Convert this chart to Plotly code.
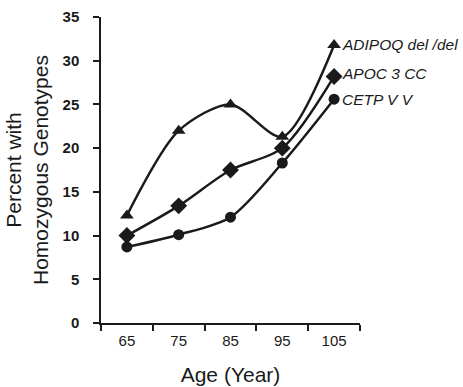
import plotly.graph_objects as go

ages = ["65", "75", "85", "95", "105"]
adipoq = [12.3, 22.0, 25.0, 21.3, 31.8]
apoc3 = [10.0, 13.4, 17.5, 20.0, 28.2]
cetp = [8.7, 10.1, 12.1, 18.3, 25.6]
series_names = ["ADIPOQ del /del", "APOC 3 CC", "CETP V V"]
y_ticks = [0, 5, 10, 15, 20, 25, 30, 35]

font = "Liberation Sans, Arial, sans-serif"
fig = go.Figure()
specs = [(adipoq, "triangle-up", 12, 0), (apoc3, "diamond", 13, 3), (cetp, "circle", 11, 0)]
for (vals, sym, size, ys), name in zip(specs, series_names):
    fig.add_trace(go.Scatter(
        x=ages, y=vals, mode="lines+markers", name=name,
        line=dict(color="#1a1a1a", width=2.5, shape="spline", smoothing=0.8),
        marker=dict(symbol=sym, size=size, color="#1a1a1a"),
        showlegend=False,
    ))
    fig.add_annotation(x=len(ages) - 1, y=vals[-1], xref="x", yref="y",
                       text="<i>" + name + "</i>",
                       showarrow=False, xanchor="left", yanchor="middle",
                       xshift=6, yshift=ys,
                       font=dict(family=font, size=15.5, color="#1a1a1a"))

fig.update_layout(
    width=463, height=387,
    margin=dict(l=101, r=103, t=17, b=64, autoexpand=False),
    plot_bgcolor="white", paper_bgcolor="white",
    font=dict(family=font, color="#1a1a1a"),
    xaxis=dict(type="category", range=[-0.5, 4.5], tickson="boundaries",
               automargin=False, ticklabelstandoff=3,
               ticks="outside", ticklen=6, tickcolor="#1a1a1a", tickwidth=1.5,
               showline=True, linecolor="#1a1a1a", linewidth=1.5,
               showgrid=False, zeroline=False,
               tickfont=dict(size=15, family=font),
               title=dict(text="Age (Year)", font=dict(size=21), standoff=20)),
    yaxis=dict(range=[0, 35], tickvals=y_ticks, automargin=False,
               ticks="outside", ticklen=6, tickcolor="#1a1a1a", tickwidth=1.5,
               showline=True, linecolor="#1a1a1a", linewidth=1.5,
               showgrid=False, zeroline=False, ticklabelstandoff=11,
               tickfont=dict(size=15, family=font, weight="bold"),
               title=dict(text="Percent with<br>Homozygous Genotypes",
                          font=dict(size=21), standoff=8)),
)

fig.write_html("out.html", config={"displayModeBar": False},
               post_script="document.body.style.margin='0px';")
